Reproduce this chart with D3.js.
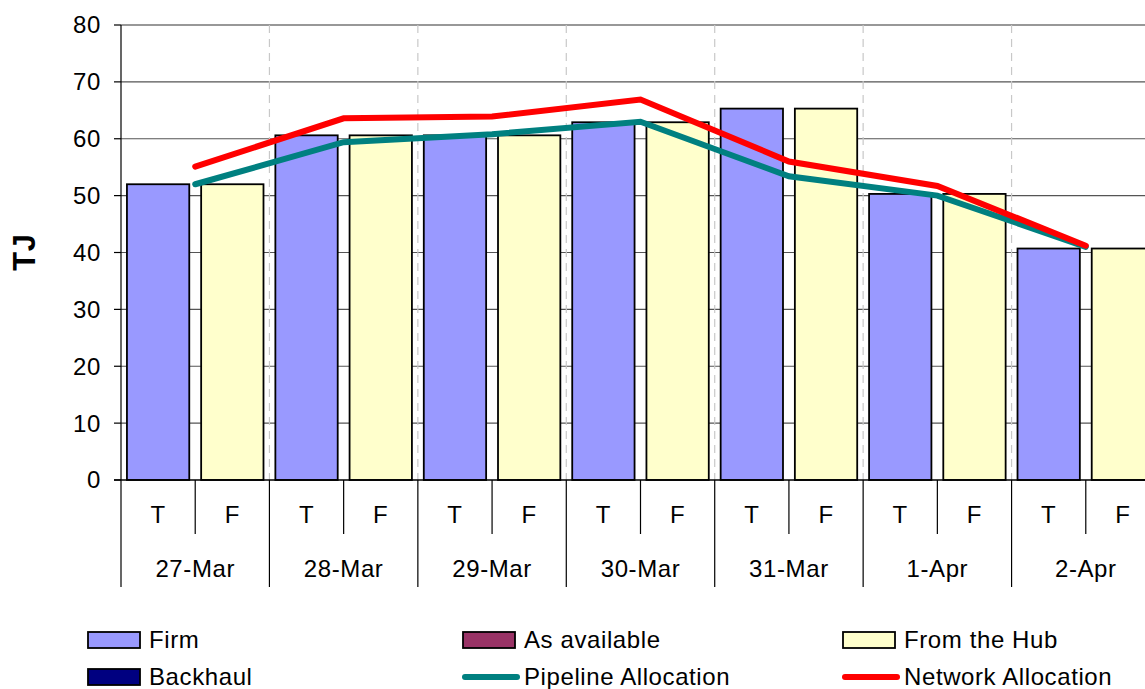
<!DOCTYPE html>
<html>
<head>
<meta charset="utf-8">
<script src="https://cdn.jsdelivr.net/npm/d3@7"></script>
<style>
  body { margin: 0; background: #fff; }
  text { font-family: "Liberation Sans", Arial, sans-serif; fill: #000; letter-spacing: 0.6px; }
</style>
</head>
<body>
<script>
const w = 1145;
const h = 689;

// data
const dates = ['27-Mar', '28-Mar', '29-Mar', '30-Mar', '31-Mar', '1-Apr', '2-Apr'];
const kinds = ['T', 'F'];
const firm = [52.0, 60.6, 60.6, 62.9, 65.3, 50.3, 40.7];
const fromHub = [52.0, 60.6, 60.6, 62.9, 65.3, 50.3, 40.7];
const pipeline = [52.0, 59.4, 60.8, 63.0, 53.4, 50.0, 41.0];
const network = [55.1, 63.6, 63.9, 66.9, 56.0, 51.7, 41.2];
const yTicks = [0, 10, 20, 30, 40, 50, 60, 70, 80];

const plotL = 121, plotR = 1160, plotT = 25, plotB = 480;

const svg = d3.select('body')
  .append('svg')
  .attr('width', w)
  .attr('height', h);

const x0 = d3.scaleBand().domain(dates).range([plotL, plotR]);
const x1 = d3.scaleBand().domain(kinds).range([0, x0.bandwidth()])
  .paddingInner(0.16).paddingOuter(0.08);
const y = d3.scaleLinear().domain([0, 80]).range([plotB, plotT]);

// horizontal gridlines
svg.selectAll('line.hgrid')
  .data(yTicks.filter(d => d > 0))
  .enter()
  .append('line')
  .attr('x1', plotL).attr('x2', w)
  .attr('y1', d => y(d)).attr('y2', d => y(d))
  .attr('stroke', d => d === 80 ? '#333' : '#555')
  .attr('stroke-width', 1.2);

// vertical dashed gridlines between dates
svg.selectAll('line.vgrid')
  .data(dates.slice(1))
  .enter()
  .append('line')
  .attr('x1', d => x0(d)).attr('x2', d => x0(d))
  .attr('y1', plotT).attr('y2', plotB)
  .attr('stroke', '#c8c8c8')
  .attr('stroke-dasharray', '8,6')
  .attr('stroke-width', 1.2);

// bars
const groups = svg.selectAll('g.grp')
  .data(dates)
  .enter()
  .append('g')
  .attr('transform', d => `translate(${x0(d)},0)`);

groups.append('rect')
  .attr('x', x1('T'))
  .attr('width', x1.bandwidth())
  .attr('y', (d, i) => y(firm[i]))
  .attr('height', (d, i) => plotB - y(firm[i]))
  .attr('fill', '#9999ff')
  .attr('stroke', '#000')
  .attr('stroke-width', 1.8);

groups.append('rect')
  .attr('x', x1('F'))
  .attr('width', x1.bandwidth())
  .attr('y', (d, i) => y(fromHub[i]))
  .attr('height', (d, i) => plotB - y(fromHub[i]))
  .attr('fill', '#ffffcc')
  .attr('stroke', '#000')
  .attr('stroke-width', 1.8);

// lines at the centre of each date
const cx = d => x0(d) + x0.bandwidth() / 2;
const lineGen = vals => d3.line()
  .x(d => cx(d))
  .y((d, i) => y(vals[i]))(dates);

svg.append('path')
  .attr('d', lineGen(pipeline))
  .attr('fill', 'none')
  .attr('stroke', '#008080')
  .attr('stroke-width', 6)
  .attr('stroke-linecap', 'round');

svg.append('path')
  .attr('d', lineGen(network))
  .attr('fill', 'none')
  .attr('stroke', '#ff0000')
  .attr('stroke-width', 6)
  .attr('stroke-linecap', 'round');

// y axis
svg.append('line')
  .attr('x1', plotL).attr('x2', plotL)
  .attr('y1', plotT).attr('y2', 587)
  .attr('stroke', '#000').attr('stroke-width', 1.2);

svg.selectAll('line.ytick')
  .data(yTicks)
  .enter()
  .append('line')
  .attr('x1', plotL - 7).attr('x2', plotL)
  .attr('y1', d => y(d)).attr('y2', d => y(d))
  .attr('stroke', '#000').attr('stroke-width', 1.2);

svg.selectAll('text.ylab')
  .data(yTicks)
  .enter()
  .append('text')
  .attr('x', 101)
  .attr('y', d => y(d))
  .attr('dy', '0.35em')
  .attr('text-anchor', 'end')
  .style('font-size', '24px')
  .text(d => d);

svg.append('text')
  .attr('transform', 'translate(35,252) rotate(-90)')
  .attr('text-anchor', 'middle')
  .style('font-size', '31px')
  .style('font-weight', 'bold')
  .text('TJ');

// x axis
svg.append('line')
  .attr('x1', plotL - 7).attr('x2', w)
  .attr('y1', plotB).attr('y2', plotB)
  .attr('stroke', '#000').attr('stroke-width', 1.5);

// T/F dividers and labels
svg.selectAll('line.kdiv')
  .data(dates)
  .enter()
  .append('line')
  .attr('x1', cx).attr('x2', cx)
  .attr('y1', plotB).attr('y2', 534)
  .attr('stroke', '#000').attr('stroke-width', 1.2);

dates.forEach(dt => {
  kinds.forEach(k => {
    svg.append('text')
      .attr('x', x0(dt) + (k === 'T' ? 0.25 : 0.75) * x0.bandwidth())
      .attr('y', 523)
      .attr('text-anchor', 'middle')
      .style('font-size', '24px')
      .text(k);
  });
});

// date dividers and labels
svg.selectAll('line.ddiv')
  .data(dates.slice(1))
  .enter()
  .append('line')
  .attr('x1', d => x0(d)).attr('x2', d => x0(d))
  .attr('y1', plotB).attr('y2', 587)
  .attr('stroke', '#000').attr('stroke-width', 1.2);

svg.selectAll('text.dlab')
  .data(dates)
  .enter()
  .append('text')
  .attr('x', cx)
  .attr('y', 577)
  .attr('text-anchor', 'middle')
  .style('font-size', '24px')
  .text(d => d);

// legend
const legend = [
  { name: 'Firm', type: 'box', color: '#9999ff', x: 88, y: 640 },
  { name: 'As available', type: 'box', color: '#993366', x: 463, y: 640 },
  { name: 'From the Hub', type: 'box', color: '#ffffcc', x: 843, y: 640 },
  { name: 'Backhaul', type: 'box', color: '#000080', x: 88, y: 677 },
  { name: 'Pipeline Allocation', type: 'line', color: '#008080', x: 463, y: 677 },
  { name: 'Network Allocation', type: 'line', color: '#ff0000', x: 843, y: 677 }
];

legend.forEach(l => {
  if (l.type === 'box') {
    svg.append('rect')
      .attr('x', l.x).attr('y', l.y - 8)
      .attr('width', 52).attr('height', 16)
      .attr('fill', l.color)
      .attr('stroke', '#000').attr('stroke-width', 1.8);
  } else {
    svg.append('line')
      .attr('x1', l.x + 2).attr('x2', l.x + 54)
      .attr('y1', l.y).attr('y2', l.y)
      .attr('stroke', l.color).attr('stroke-width', 6)
      .attr('stroke-linecap', 'round');
  }
  svg.append('text')
    .attr('x', l.x + 61)
    .attr('y', l.y + 8)
    .style('font-size', '24px')
    .text(l.name);
});
</script>
</body>
</html>
